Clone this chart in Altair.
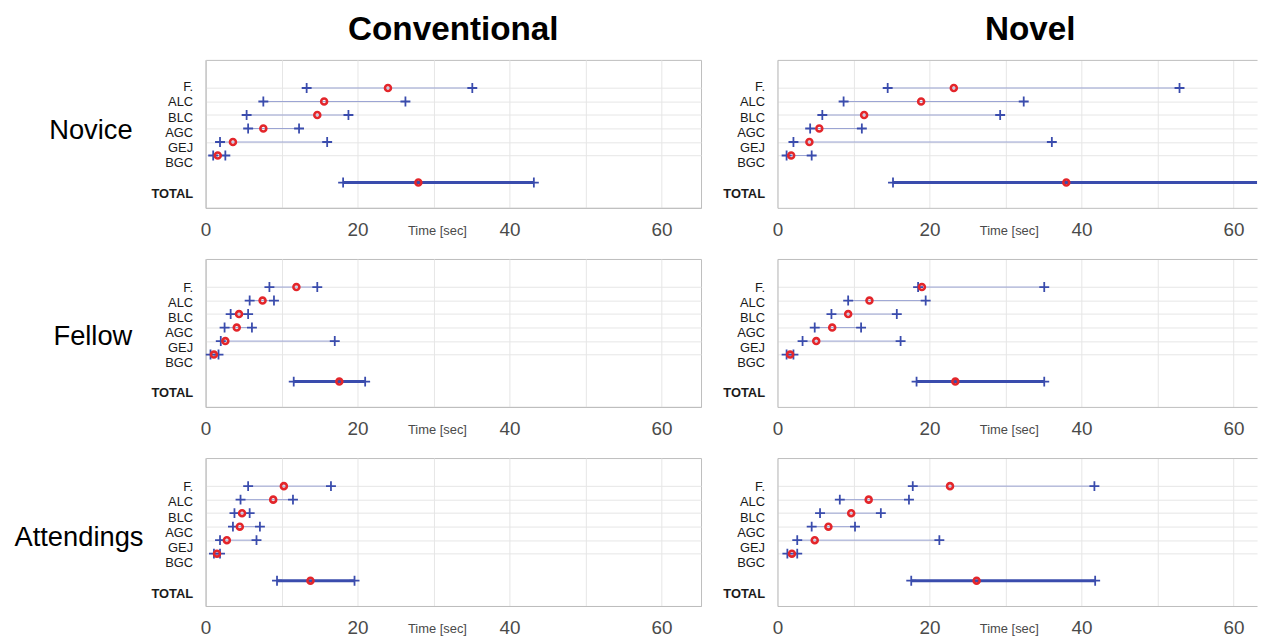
import altair as alt
import pandas as pd

ROWS = ["F.", "ALC", "BLC", "AGC", "GEJ", "BGC", "TOTAL"]
SLOTS = [0, 1, 2, 3, 4, 5, 7]
GROUPS = ["Novice", "Fellow", "Attendings"]
METHODS = ["Conventional", "Novel"]

# Novice
nov_conv_lo = [13.3, 7.6, 5.4, 5.6, 1.9, 1.0, 18.1]
nov_conv_mid = [24.0, 15.6, 14.7, 7.6, 3.6, 1.6, 28.0]
nov_conv_hi = [35.1, 26.3, 18.8, 12.3, 16.0, 2.6, 43.2]
nov_novel_lo = [14.5, 8.7, 5.9, 4.3, 2.1, 1.2, 15.2]
nov_novel_mid = [23.2, 18.9, 11.4, 5.5, 4.2, 1.8, 38.0]
nov_novel_hi = [52.9, 32.4, 29.3, 11.1, 36.1, 4.5, 68.0]
# Fellow
fel_conv_lo = [8.4, 5.8, 3.3, 2.5, 2.0, 0.65, 11.6]
fel_conv_mid = [11.95, 7.5, 4.4, 4.1, 2.6, 1.1, 17.6]
fel_conv_hi = [14.7, 9.0, 5.6, 6.1, 17.0, 1.7, 21.0]
fel_novel_lo = [18.5, 9.3, 7.1, 4.9, 3.3, 1.2, 18.3]
fel_novel_mid = [19.0, 12.1, 9.3, 7.2, 5.1, 1.66, 23.4]
fel_novel_hi = [35.1, 19.5, 15.7, 11.0, 16.2, 2.1, 35.1]
# Attendings
att_conv_lo = [5.6, 4.6, 3.8, 3.6, 1.9, 1.1, 9.4]
att_conv_mid = [10.3, 8.9, 4.8, 4.5, 2.8, 1.5, 13.8]
att_conv_hi = [16.5, 11.5, 5.8, 7.15, 6.7, 1.9, 19.6]
att_novel_lo = [17.8, 8.2, 5.6, 4.5, 2.6, 1.3, 17.6]
att_novel_mid = [22.7, 12.0, 9.7, 6.7, 4.9, 1.9, 26.2]
att_novel_hi = [41.7, 17.3, 13.6, 10.2, 21.3, 2.6, 41.8]

PANELS = [
    [(nov_conv_lo, nov_conv_mid, nov_conv_hi), (nov_novel_lo, nov_novel_mid, nov_novel_hi)],
    [(fel_conv_lo, fel_conv_mid, fel_conv_hi), (fel_novel_lo, fel_novel_mid, fel_novel_hi)],
    [(att_conv_lo, att_conv_mid, att_conv_hi), (att_novel_lo, att_novel_mid, att_novel_hi)],
]

FONT = "Liberation Sans"
RED = "#e3262b"
BLUE = "#3a4cad"
THIN = "#9aa3d3"
GRID = "#e6e6e6"
BORDER = "#bdbdbd"
TICKC = "#4a4a4a"
PLUS = "M-1,0L1,0M0,-1L0,1"

LABEL_OFF = [(-1.2, 1.7), (0.0, 1.6), (0.5, 1.75)]
TITLE_X = [-116, -114, -128]
TITLE_Y = [71, 78, 80]
H = 149

names = {s: n for s, n in zip(SLOTS, ROWS)}
label_arr = "[" + ",".join("'%s'" % names.get(i, "") for i in range(max(SLOTS) + 1)) + "]"


def panel(lo, mid, hi, r, c):
    left = c == 0
    df = pd.DataFrame({"row": ROWS, "slot": SLOTS, "lo": lo, "mid": mid, "hi": hi})
    xmax = 65.2 if left else 63.1
    width = 499 if left else 483
    xs = alt.Scale(domain=[0, xmax], nice=False, zero=False)
    ys = alt.Scale(domain=[-2.08, 8.875], reverse=True, nice=False, zero=False)
    xaxis = alt.Axis(
        values=list(range(0, 61, 10)), tickCount=20,
        labelExpr="datum.value % 20 == 0 ? datum.label : ''",
        labelFont=FONT, labelFontSize=19, labelColor=TICKC, labelPadding=13,
        labelFlush=False, labelOverlap=False, ticks=False, domain=True, domainColor=BORDER,
        grid=True, gridColor=GRID,
        title="Time [sec]", titleFont=FONT, titleFontSize=13, titleFontWeight="normal",
        titleColor=TICKC, titleX=233, titleY=23, titleAlign="center", titleBaseline="middle",
    )
    a, b = LABEL_OFF[r]
    ykw = dict(
        values=SLOTS, tickCount=20,
        labelExpr=label_arr + "[datum.value]",
        labelFont=FONT, labelFontSize=13, labelColor="#1a1a1a",
        labelFontWeight=alt.condition("datum.value == 7", alt.value("bold"), alt.value("normal")),
        labelPadding=13, labelOverlap=False,
        labelOffset={"expr": "%s + %s * datum.value" % (a, b)},
        ticks=False, domain=True, domainColor=BORDER,
        grid=True, gridColor=GRID,
        gridOpacity=alt.condition("datum.value == 7", alt.value(0), alt.value(1)),
    )
    if left:
        ykw.update(title=GROUPS[r], titleFont=FONT, titleFontSize=27.5, titleFontWeight="normal",
                   titleColor="black", titleAngle=0, titleAlign="center", titleBaseline="middle",
                   titleX=TITLE_X[r], titleY=TITLE_Y[r])
    else:
        ykw.update(title=None, minExtent=62, maxExtent=62)
    yaxis = alt.Axis(**ykw)

    base = alt.Chart(df)
    thin = base.transform_filter("datum.slot < 7").mark_rule(
        color=THIN, strokeWidth=1, clip=True
    ).encode(
        x=alt.X("lo:Q", scale=xs, axis=xaxis), x2="hi:Q",
        y=alt.Y("slot:Q", scale=ys, axis=yaxis),
    )
    if left:
        xo = dict()
    else:
        xo = dict(axis=None)
    thick = base.transform_filter("datum.slot == 7").mark_rule(
        color=BLUE, strokeWidth=3, clip=True
    ).encode(x=alt.X("lo:Q", **xo), x2="hi:Q", y=alt.Y("slot:Q"))
    plus = base.transform_fold(["lo", "hi"], as_=["k", "v"]).mark_point(
        shape=PLUS, filled=False, color=BLUE, strokeWidth=1.8, size=100, opacity=1, clip=True
    ).encode(x=alt.X("v:Q", **xo), y=alt.Y("slot:Q"))
    if left:
        co = dict()
    else:
        co = dict(axis=alt.Axis(orient="top", labels=False, ticks=False, grid=False, domain=True,
                                domainColor=BORDER, title=None))
    circ = base.mark_point(
        shape="circle", filled=False, color=RED, strokeWidth=2.6, size=36, opacity=1, clip=True
    ).encode(x=alt.X("mid:Q", **co), y=alt.Y("slot:Q"))

    ch = alt.layer(thin, thick, plus, circ).properties(width=width, height=H)
    if not left:
        ch = ch.resolve_axis(x="independent").properties(
            view=alt.ViewBackground(stroke="transparent"))
    if r == 0:
        ch = ch.properties(title=alt.TitleParams(
            METHODS[c], font=FONT, fontSize=33.5, fontWeight="bold", color="black",
            anchor="middle", offset=13, dx=0 if left else 13))
    return ch


charts = []
for r in range(3):
    for c in range(2):
        lo, mid, hi = PANELS[r][c]
        charts.append(panel(lo, mid, hi, r, c))

chart = alt.concat(
    *charts, columns=2, spacing={"row": 17.5, "column": 13}, align="each"
).properties(
    padding={"top": 2, "left": 5, "right": 5, "bottom": 2}
).configure_view(
    stroke=BORDER, strokeWidth=1
)

chart.save("out.html", embed_options={"renderer": "svg", "actions": False})
